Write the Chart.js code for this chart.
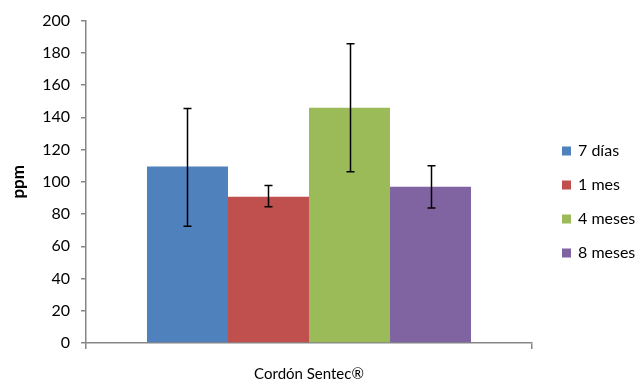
<!DOCTYPE html>
<html>
<head>
<meta charset="utf-8">
<script src="https://cdn.jsdelivr.net/npm/chart.js@4"></script>
<style>
  html, body { margin: 0; padding: 0; background: #fff; }
  #wrap { width: 640px; height: 381px; }
</style>
</head>
<body>
<div id="wrap"><canvas id="chart" width="640" height="381"></canvas></div>
<script>
// Data
const categories = ['Cordón Sentec®'];
const seriesLabels = ['7 días', '1 mes', '4 meses', '8 meses'];
const seriesValues = [109.5, 90.8, 146, 97];
const errLow = [72.4, 84.5, 106.2, 83.7];
const errHigh = [145.5, 97.7, 185.7, 109.9];
const colors = ['#4F81BD', '#C0504D', '#9BBB59', '#8064A2'];

const FONT = 'Lato, "Open Sans", sans-serif';
const AXIS_GRAY = '#868686';

// error bars drawn through the y scale
const errorBars = {
    id: 'errorBars',
    afterDatasetsDraw(chart) {
        const ctx = chart.ctx;
        const y = chart.scales.y;
        ctx.save();
        ctx.strokeStyle = '#000';
        ctx.lineWidth = 1.5;
        chart.data.datasets.forEach((ds, i) => {
            const bar = chart.getDatasetMeta(i).data[0];
            const x = Math.round(bar.x) + 0.5;
            const yLo = y.getPixelForValue(errLow[i]);
            const yHi = y.getPixelForValue(errHigh[i]);
            ctx.beginPath();
            ctx.moveTo(x, yHi);
            ctx.lineTo(x, yLo);
            ctx.moveTo(x - 4, yHi);
            ctx.lineTo(x + 4, yHi);
            ctx.moveTo(x - 4, yLo);
            ctx.lineTo(x + 4, yLo);
            ctx.stroke();
        });
        ctx.restore();
    }
};

// simple legend on the right, like the original
const sideLegend = {
    id: 'sideLegend',
    afterDraw(chart) {
        const ctx = chart.ctx;
        ctx.save();
        ctx.font = '16px ' + FONT;
        ctx.textBaseline = 'middle';
        ctx.fillStyle = '#000';
        chart.data.datasets.forEach((ds, i) => {
            const cy = 151 + i * 34;
            ctx.fillStyle = ds.backgroundColor;
            ctx.fillRect(562, cy - 4.5, 9, 9);
            ctx.fillStyle = '#000';
            ctx.fillText(ds.label, 578, cy);
        });
        ctx.restore();
    }
};

new Chart(document.getElementById('chart'), {
    type: 'bar',
    data: {
        labels: categories,
        datasets: seriesLabels.map((label, i) => ({
            label: label,
            data: [seriesValues[i]],
            backgroundColor: colors[i],
            borderWidth: 0,
            categoryPercentage: 0.7265,
            barPercentage: 1
        }))
    },
    options: {
        responsive: false,
        animation: false,
        layout: { padding: { top: 19, right: 108, bottom: 0, left: 0 } },
        plugins: {
            legend: { display: false },
            tooltip: { enabled: false }
        },
        scales: {
            x: {
                afterFit(scale) { scale.height = 38; },
                grid: {
                    offset: true,
                    drawOnChartArea: false,
                    drawTicks: true,
                    tickLength: 6,
                    color: AXIS_GRAY,
                    lineWidth: 1.5
                },
                border: { color: AXIS_GRAY, width: 1.5 },
                ticks: {
                    color: '#000',
                    padding: 16,
                    font: { family: FONT, size: 15 }
                }
            },
            y: {
                min: 0,
                max: 200,
                afterFit(scale) { scale.width = 86; },
                grid: {
                    drawOnChartArea: false,
                    drawTicks: true,
                    tickLength: 5,
                    color: AXIS_GRAY,
                    lineWidth: 1.5
                },
                border: { color: AXIS_GRAY, width: 1.5 },
                ticks: {
                    stepSize: 20,
                    color: '#000',
                    padding: 11,
                    font: { family: FONT, size: 16 }
                },
                title: {
                    display: true,
                    text: 'ppm',
                    color: '#000',
                    padding: { top: 8, bottom: 0 },
                    font: { family: FONT, size: 17, weight: 'bold' }
                }
            }
        }
    },
    plugins: [errorBars, sideLegend]
});
</script>
</body>
</html>
